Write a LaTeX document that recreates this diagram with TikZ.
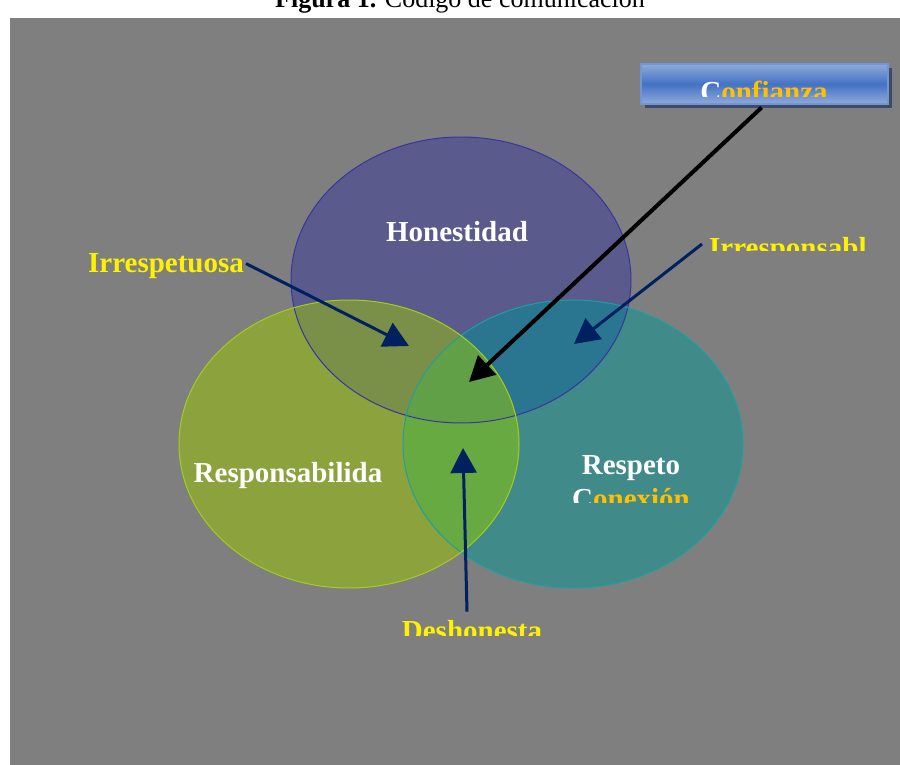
\documentclass[tikz,border=0pt]{standalone}
\usepackage{fontspec}
\setmainfont{Liberation Serif}
\usetikzlibrary{arrows.meta, shadows}

\definecolor{fondo}{HTML}{7F7F7F}
\definecolor{honcol}{HTML}{5A5A8C}
\definecolor{honborde}{HTML}{3636A0}
\definecolor{respcol}{HTML}{8BA23D}
\definecolor{respborde}{HTML}{A6CC1E}
\definecolor{respetocol}{HTML}{408A8A}
\definecolor{respetoborde}{HTML}{1FA0A0}
\definecolor{hrcol}{HTML}{7A9048}
\definecolor{hpcol}{HTML}{2A7590}
\definecolor{rpcol}{HTML}{68AA42}
\definecolor{centrocol}{HTML}{62A048}
\definecolor{azul}{HTML}{002060}
\definecolor{dorado}{HTML}{FFC000}
\definecolor{botonmedio}{HTML}{4472C4}
\definecolor{botonclaro}{HTML}{8EAADB}
\definecolor{sombra}{HTML}{3E4A66}

% circulos
\newcommand\circHon{(461,280) ellipse [x radius=170, y radius=143]}
\newcommand\circResp{(349,444) ellipse [x radius=170, y radius=144]}
\newcommand\circRespeto{(573,444) ellipse [x radius=170, y radius=144]}

\begin{document}
\begin{tikzpicture}[
    x=1pt, y=-1pt,
    every node/.style = {font=\bfseries\fontsize{29}{34}\selectfont, inner sep=0pt},
    etiqueta/.style = {text=white},
    valor/.style = {text=yellow},
    flecha/.style = {-{Triangle[length=25pt,width=26pt]}, line width=3pt, draw=azul},
    boton/.style = {
        minimum width=247pt, minimum height=40pt, draw=botonmedio!75!white, line width=1.5pt,
        top color=botonclaro, bottom color=botonclaro, middle color=botonmedio,
        drop shadow={shadow xshift=4pt, shadow yshift=-4pt, opacity=1, fill=sombra}
    }
  ]
    \useasboundingbox (0,0) rectangle (900,765);
    \fill[white] (0,0) rectangle (900,765);
    \fill[fondo] (10,18) rectangle (900,765);  % fondo gris

    % titulo cortado
    \begin{scope}
        \clip (0,0) rectangle (900,18);
        \node[anchor=base, text=black, font=\fontsize{26}{30}\selectfont] (titulo) at (460,8)
            {\textbf{Figura 1.} Código de comunicación};
    \end{scope}

    % regiones
    \fill[honcol] \circHon;
    \fill[respcol] \circResp;
    \fill[respetocol] \circRespeto;
    \begin{scope}
        \clip \circHon;
        \fill[hrcol] \circResp;
        \fill[hpcol] \circRespeto;
    \end{scope}
    \begin{scope}
        \clip \circResp;
        \fill[rpcol] \circRespeto;
        \clip \circHon;
        \fill[centrocol] \circRespeto;
    \end{scope}
    \draw[honborde, line width=1pt] \circHon;
    \draw[respetoborde, line width=1pt] \circRespeto;
    \draw[respborde, line width=1pt] \circResp;

    % textos
    \node[etiqueta, anchor=base] (hon) at (457,241) {Honestidad};
    \node[etiqueta, anchor=base] (resp) at (288,482) {Responsabilida};
    \node[etiqueta, anchor=base] (respeto) at (631,474) {Respeto};
    \begin{scope}
        \clip (540,480) rectangle (720,502);
        \node[anchor=base] (conexion) at (631,508) {\textcolor{white}{C}\textcolor{dorado}{onexión}};
    \end{scope}
    \node[valor, anchor=base] (irrespetuosa) at (166,272) {Irrespetuosa};
    \begin{scope}
        \clip (700,230) rectangle (866,250);
        \node[valor, anchor=base west] (irresponsable) at (709,257) {Irresponsable};
    \end{scope}
    \begin{scope}
        \clip (380,612) rectangle (560,635);
        \node[valor, anchor=base] (deshonesta) at (472,640) {Deshonesta};
    \end{scope}

    % flechas
    \draw[flecha] ([xshift=2pt, yshift=2pt]irrespetuosa.east) -- (409,346);
    \draw[flecha] ([xshift=-7pt, yshift=6pt]irresponsable.west) -- (574,344);
    \draw[flecha] ([xshift=-5pt, yshift=8pt]deshonesta.north) -- (463,448);
    \node[boton] (boton) at (764.5,84) {};
    \draw[-{Triangle[length=25pt,width=26pt]}, line width=4pt, shorten <=4pt] (boton.south) -- (469,382);
    \begin{scope}
        \clip (690,70) rectangle (840,97);
        \node[anchor=base] (confianza) at (764,102) {\textcolor{white}{C}\textcolor{dorado}{onfianza}};
    \end{scope}
\end{tikzpicture}
\end{document}
